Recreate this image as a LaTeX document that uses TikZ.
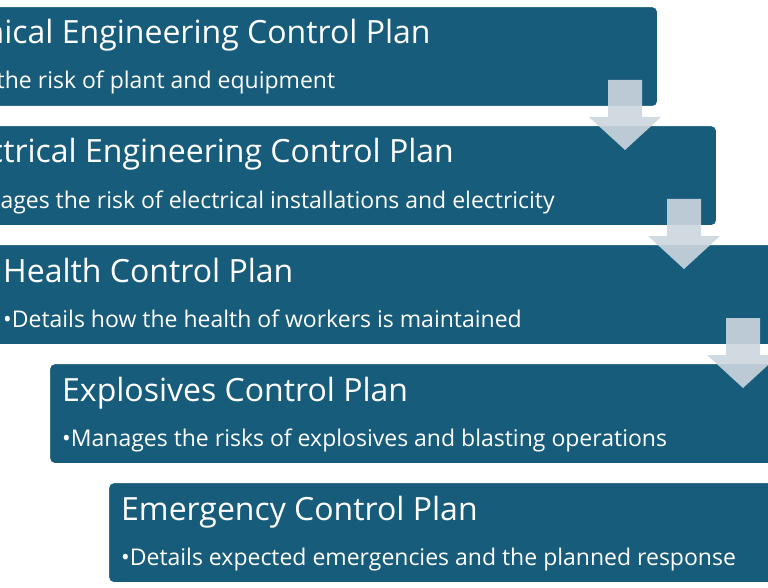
\documentclass[tikz,border=0pt]{standalone}
\usepackage{fontspec}
\setmainfont{Open Sans}
\usetikzlibrary{positioning}
\definecolor{planblue}{RGB}{24,92,124}
\definecolor{arrowgrey}{RGB}{205,214,222}
\tikzset{
  planbox/.style={draw=white, line width=1.2pt, fill=planblue, rounded corners=5pt,
    anchor=north west, minimum width=785pt, minimum height=100pt, inner sep=0pt},
  plantitle/.style={anchor=base west, text=white, font=\fontsize{32}{36}\selectfont, inner sep=0pt},
  planbullet/.style={anchor=base west, text=white, font=\fontsize{23}{26}\selectfont, inner sep=0pt},
  downarrow/.style={fill=arrowgrey, opacity=0.9, draw=none}
}
\newcommand{\planarrow}[2]{% tip x, top y
  \fill[downarrow] (#1-17,#2) -- (#1+17,#2) -- (#1+17,#2+37) -- (#1+36,#2+37)
    -- (#1,#2+70) -- (#1-36,#2+37) -- (#1-17,#2+37) -- cycle;}
\begin{document}
\begin{tikzpicture}[x=1pt,y=-1pt]
\useasboundingbox (0,0) rectangle (768,588);
\clip (0,0) rectangle (768,588);
% plan boxes
\node[planbox] (mech) at (-128,6) {};
\node[planbox] (elec) at (-69,125) {};
\node[planbox] (health) at (-10,244) {};
\node[planbox] (expl) at (49,363) {};
\node[planbox] (emer) at (108,482) {};
% texts
\node[plantitle] (mechT) at (-115,44) {Mechanical Engineering Control Plan};
\node[planbullet] (mechB) at (-115,89) {•Manages the risk of plant and equipment};
\node[plantitle] (elecT) at (-56,163) {Electrical Engineering Control Plan};
\node[planbullet] (elecB) at (-56,208) {•Manages the risk of electrical installations and electricity};
\node[plantitle] (healthT) at (3,282) {Health Control Plan};
\node[planbullet] (healthB) at (3,327) {•Details how the health of workers is maintained};
\node[plantitle] (explT) at (62,401) {Explosives Control Plan};
\node[planbullet] (explB) at (62,446) {•Manages the risks of explosives and blasting operations};
\node[plantitle] (emerT) at (121,520) {Emergency Control Plan};
\node[planbullet] (emerB) at (121,565) {•Details expected emergencies and the planned response};
% arrows
\planarrow{625}{80}
\planarrow{684}{199}
\planarrow{743}{318}
\end{tikzpicture}
\end{document}
